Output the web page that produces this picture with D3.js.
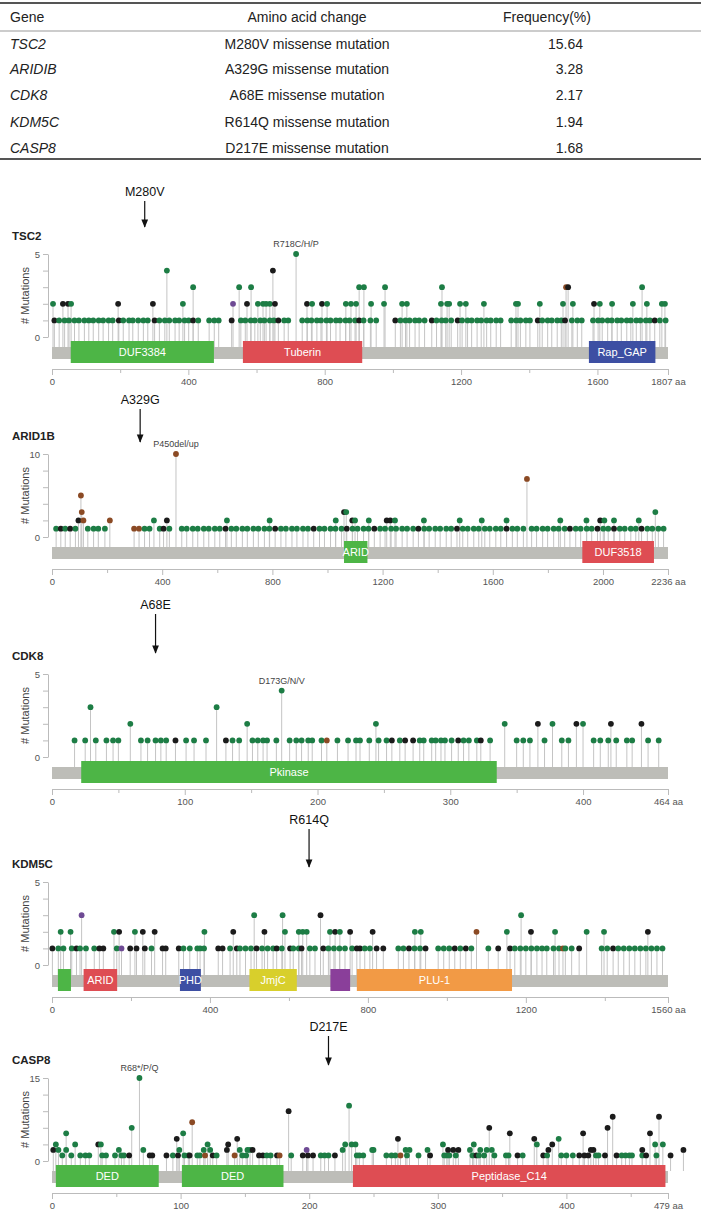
<!DOCTYPE html>
<html>
<head>
<meta charset="utf-8">
<script src="https://cdn.jsdelivr.net/npm/d3@7"></script>
<style>
  body { margin: 0; background: #fff; }
  svg text { font-family: "Liberation Sans", Arial, Helvetica, sans-serif; }
</style>
</head>
<body>
<svg id="fig" width="701" height="1212"></svg>
<script>
// ---- table data ----
var tableHead = ["Gene", "Amino acid change", "Frequency(%)"];
var tableGenes = ["TSC2", "ARIDIB", "CDK8", "KDM5C", "CASP8"];
var tableChanges = ["M280V missense mutation", "A329G missense mutation", "A68E missense mutation",
                    "R614Q missense mutation", "D217E missense mutation"];
var tableFreq = ["15.64", "3.28", "2.17", "1.94", "1.68"];

// ---- lollipop panels ----
var geneNames = ["TSC2", "ARID1B", "CDK8", "KDM5C", "CASP8"];
var geneLengths = [1807, 2236, 464, 1560, 479];
var maxCounts = [5, 10, 5, 5, 15];
var yTicks = [[0,1,2,3,4,5], [0,2,4,6,8,10], [0,1,2,3,4,5], [0,1,2,3,4,5], [0,3,6,9,12,15]];
var xMajor = [[0,400,800,1200,1600,1807], [0,400,800,1200,1600,2000,2236], [0,100,200,300,400,464],
              [0,400,800,1200,1560], [0,100,200,300,400,479]];
var xMinor = [[200,600,1000,1400], [200,600,1000,1400,1800], [50,150,250,350],
              [200,600,1000,1400], [50,150,250,350,450]];
var arrowLabels = ["M280V", "A329G", "A68E", "R614Q", "D217E"];
var arrowAt = [272, 320, 78, 651, 215];
var hotLabels = [[716, 5, "R718C/H/P"], [450, 10, "P450del/up"], [173, 4, "D173G/N/V"], null, [68, 15, "R68*/P/Q"]];

// domains: [start, end, name, colour key]
var tsc2Domains = [[55, 475, "DUF3384", "g"], [560, 910, "Tuberin", "r"], [1575, 1770, "Rap_GAP", "b"]];
var arid1bDomains = [[1060, 1145, "ARID", "g"], [1925, 2185, "DUF3518", "r"]];
var cdk8Domains = [[22, 335, "Pkinase", "g"]];
var kdm5cDomains = [[15, 48, "", "g"], [80, 165, "ARID", "r"], [324, 377, "PHD", "b"], [500, 620, "JmjC", "y"],
                    [705, 755, "", "p"], [772, 1165, "PLU-1", "o"]];
var casp8Domains = [[3, 83, "DED", "g"], [101, 180, "DED", "g"], [234, 477, "Peptidase_C14", "r"]];

// mutations: [position (aa), count, type]  M missense, T truncating, I inframe, O other
var tsc2Muts = [
  [716,5,"M"],[337,4,"M"],[648,4,"T"],
  [414,3,"M"],[549,3,"M"],[584,3,"M"],[901,3,"M"],[915,3,"M"],[977,3,"M"],[1144,3,"M"],[1508,3,"I"],[1514,3,"T"],[1731,3,"M"],
  [3,2,"M"],[32,2,"T"],[47,2,"T"],[56,2,"M"],[194,2,"T"],[296,2,"T"],[384,2,"M"],[531,2,"O"],[572,2,"T"],[604,2,"M"],
  [619,2,"M"],[628,2,"M"],[639,2,"M"],[654,2,"T"],[748,2,"T"],[763,2,"M"],[792,2,"T"],[807,2,"M"],[862,2,"M"],[877,2,"M"],
  [892,2,"M"],[936,2,"M"],[974,2,"M"],[1027,2,"M"],[1041,2,"M"],[1141,2,"M"],[1159,2,"M"],[1165,2,"M"],[1197,2,"M"],
  [1214,2,"M"],[1267,2,"M"],[1361,2,"M"],[1367,2,"M"],[1431,2,"M"],[1499,2,"M"],[1528,2,"M"],[1590,2,"T"],[1607,2,"M"],
  [1643,2,"M"],[1704,2,"M"],[1745,2,"M"],[1789,2,"M"],[1798,2,"M"],
  [7,1,"T"],[21,1,"M"],[37,1,"M"],[50,1,"M"],[66,1,"M"],[79,1,"M"],[95,1,"M"],[108,1,"M"],[121,1,"M"],[137,1,"M"],
  [150,1,"M"],[166,1,"M"],[178,1,"M"],[196,1,"T"],[209,1,"M"],[226,1,"M"],[237,1,"M"],[253,1,"M"],[268,1,"M"],[281,1,"M"],
  [301,1,"T"],[315,1,"M"],[331,1,"M"],[344,1,"M"],[361,1,"M"],[373,1,"M"],[389,1,"M"],[401,1,"M"],[414,1,"T"],[429,1,"M"],
  [461,1,"M"],[476,1,"M"],[489,1,"M"],[527,1,"T"],[554,1,"M"],[567,1,"M"],[583,1,"M"],[595,1,"M"],[611,1,"M"],[623,1,"M"],
  [639,1,"M"],[651,1,"M"],[664,1,"T"],[681,1,"M"],[693,1,"M"],[734,1,"M"],[749,1,"M"],[761,1,"M"],[777,1,"M"],[789,1,"M"],
  [805,1,"M"],[817,1,"M"],[833,1,"M"],[845,1,"M"],[861,1,"M"],[873,1,"M"],[889,1,"M"],[901,1,"T"],[914,1,"M"],[934,1,"M"],
  [951,1,"M"],[1007,1,"T"],[1022,1,"M"],[1037,1,"M"],[1049,1,"M"],[1065,1,"M"],[1077,1,"M"],[1093,1,"M"],[1114,1,"T"],
  [1128,1,"M"],[1143,1,"M"],[1155,1,"M"],[1171,1,"M"],[1190,1,"T"],[1203,1,"M"],[1219,1,"M"],[1231,1,"M"],[1247,1,"M"],
  [1259,1,"M"],[1275,1,"M"],[1287,1,"M"],[1303,1,"M"],[1316,1,"M"],[1347,1,"M"],[1362,1,"M"],[1374,1,"M"],[1390,1,"M"],
  [1402,1,"M"],[1425,1,"T"],[1438,1,"M"],[1454,1,"M"],[1466,1,"M"],[1482,1,"M"],[1494,1,"M"],[1505,1,"T"],[1525,1,"M"],
  [1541,1,"M"],[1554,1,"M"],[1587,1,"M"],[1602,1,"M"],[1614,1,"M"],[1630,1,"M"],[1642,1,"M"],[1658,1,"M"],[1670,1,"M"],
  [1686,1,"M"],[1698,1,"M"],[1714,1,"M"],[1726,1,"M"],[1742,1,"M"],[1754,1,"M"],[1768,1,"T"],[1783,1,"M"],[1800,1,"M"]
];

var arid1bMuts = [
  [450,10,"I"],[1724,7,"I"],[105,5,"I"],
  [108,3,"I"],[1060,3,"T"],[1068,3,"M"],[2190,3,"M"],
  [96,2,"T"],[114,2,"I"],[210,2,"I"],[370,2,"M"],[417,2,"T"],[635,2,"M"],[790,2,"M"],[1030,2,"M"],[1090,2,"T"],
  [1100,2,"M"],[1150,2,"M"],[1215,2,"T"],[1228,2,"T"],[1245,2,"M"],[1350,2,"M"],[1480,2,"M"],[1560,2,"M"],[1650,2,"M"],
  [1845,2,"M"],[1940,2,"M"],[1990,2,"T"],[2005,2,"M"],[2040,2,"M"],[2130,2,"M"],
  [15,1,"M"],[32,1,"T"],[48,1,"M"],[66,1,"T"],[85,1,"M"],[130,1,"M"],[151,1,"M"],[168,1,"M"],[192,1,"M"],[298,1,"I"],
  [316,1,"I"],[336,1,"M"],[354,1,"M"],[391,1,"M"],[405,1,"T"],[426,1,"M"],[471,1,"M"],[489,1,"M"],[511,1,"M"],[529,1,"M"],
  [551,1,"M"],[569,1,"M"],[591,1,"M"],[609,1,"M"],[630,1,"T"],[651,1,"M"],[669,1,"M"],[691,1,"M"],[709,1,"M"],[731,1,"M"],
  [749,1,"M"],[771,1,"M"],[789,1,"M"],[810,1,"T"],[831,1,"M"],[849,1,"M"],[871,1,"M"],[889,1,"M"],[911,1,"M"],[929,1,"M"],
  [950,1,"T"],[971,1,"M"],[989,1,"M"],[1011,1,"M"],[1029,1,"M"],[1051,1,"M"],[1070,1,"T"],[1091,1,"M"],[1109,1,"M"],
  [1131,1,"M"],[1149,1,"M"],[1170,1,"T"],[1191,1,"M"],[1209,1,"M"],[1231,1,"M"],[1249,1,"M"],[1271,1,"M"],[1289,1,"M"],
  [1311,1,"M"],[1330,1,"T"],[1351,1,"M"],[1369,1,"M"],[1391,1,"M"],[1409,1,"M"],[1431,1,"M"],[1449,1,"M"],[1470,1,"T"],
  [1491,1,"M"],[1509,1,"M"],[1531,1,"M"],[1549,1,"M"],[1571,1,"M"],[1589,1,"M"],[1611,1,"M"],[1629,1,"M"],[1650,1,"T"],
  [1671,1,"M"],[1689,1,"M"],[1711,1,"M"],[1741,1,"M"],[1759,1,"M"],[1781,1,"M"],[1799,1,"M"],[1821,1,"M"],[1839,1,"M"],
  [1861,1,"M"],[1880,1,"T"],[1901,1,"M"],[1919,1,"M"],[1941,1,"M"],[1959,1,"M"],[1980,1,"T"],[2001,1,"M"],[2019,1,"M"],
  [2040,1,"T"],[2061,1,"M"],[2079,1,"M"],[2101,1,"M"],[2119,1,"M"],[2140,1,"T"],[2161,1,"M"],[2179,1,"M"],[2201,1,"M"],
  [2220,1,"M"]
];

var cdk8Muts = [
  [173,4,"M"],
  [29,3,"M"],[124,3,"M"],
  [59,2,"M"],[147,2,"M"],[244,2,"M"],[341,2,"M"],[366,2,"T"],[377,2,"M"],[395,2,"T"],[400,2,"M"],[421,2,"T"],[444,2,"T"],
  [17,1,"M"],[25,1,"M"],[33,1,"M"],[41,1,"M"],[46,1,"M"],[50,1,"M"],[67,1,"M"],[72,1,"M"],[78,1,"M"],[82,1,"M"],
  [86,1,"M"],[93,1,"T"],[101,1,"M"],[107,1,"M"],[116,1,"M"],[131,1,"T"],[136,1,"M"],[141,1,"M"],[151,1,"M"],[155,1,"M"],
  [159,1,"M"],[162,1,"M"],[169,1,"M"],[179,1,"M"],[184,1,"M"],[188,1,"M"],[193,1,"M"],[196,1,"M"],[203,1,"M"],[207,1,"I"],
  [215,1,"M"],[223,1,"M"],[229,1,"M"],[232,1,"M"],[239,1,"M"],[246,1,"M"],[252,1,"M"],[256,1,"T"],[262,1,"M"],[266,1,"T"],
  [272,1,"T"],[277,1,"M"],[280,1,"M"],[286,1,"M"],[289,1,"M"],[293,1,"M"],[296,1,"M"],[301,1,"M"],[306,1,"T"],[310,1,"M"],
  [314,1,"M"],[320,1,"M"],[323,1,"T"],[330,1,"M"],[350,1,"M"],[355,1,"M"],[360,1,"M"],[371,1,"M"],[384,1,"M"],[389,1,"M"],
  [408,1,"M"],[413,1,"M"],[419,1,"M"],[425,1,"M"],[433,1,"M"],[437,1,"M"],[449,1,"M"],[457,1,"M"]
];

var kdm5cMuts = [
  [75,3,"O"],[512,3,"M"],[584,3,"M"],[680,3,"T"],[1188,3,"M"],
  [22,2,"M"],[47,2,"M"],[157,2,"M"],[170,2,"T"],[210,2,"M"],[230,2,"T"],[260,2,"T"],[386,2,"M"],[459,2,"T"],[538,2,"T"],
  [590,2,"M"],[625,2,"M"],[635,2,"M"],[645,2,"M"],[704,2,"M"],[717,2,"T"],[729,2,"M"],[755,2,"T"],[812,2,"T"],[919,2,"M"],
  [934,2,"M"],[1075,2,"I"],[1152,2,"M"],[1213,2,"T"],[1274,2,"M"],[1354,2,"M"],[1398,2,"M"],[1509,2,"T"],
  [1,1,"T"],[16,1,"M"],[29,1,"M"],[50,1,"M"],[62,1,"T"],[71,1,"M"],[86,1,"M"],[107,1,"M"],[120,1,"T"],[130,1,"T"],
  [164,1,"M"],[176,1,"O"],[198,1,"T"],[214,1,"T"],[235,1,"T"],[252,1,"M"],[280,1,"T"],[288,1,"T"],[321,1,"T"],[333,1,"M"],
  [349,1,"M"],[368,1,"M"],[375,1,"M"],[385,1,"M"],[421,1,"T"],[432,1,"T"],[451,1,"M"],[468,1,"T"],[476,1,"M"],[490,1,"M"],
  [504,1,"M"],[518,1,"T"],[532,1,"M"],[546,1,"M"],[560,1,"M"],[569,1,"T"],[582,1,"M"],[603,1,"T"],[611,1,"M"],[625,1,"M"],
  [632,1,"T"],[653,1,"M"],[666,1,"M"],[687,1,"T"],[700,1,"M"],[714,1,"M"],[728,1,"M"],[742,1,"M"],[760,1,"M"],[772,1,"T"],
  [780,1,"T"],[792,1,"M"],[805,1,"M"],[822,1,"T"],[839,1,"T"],[877,1,"M"],[890,1,"M"],[904,1,"T"],[918,1,"M"],[932,1,"M"],
  [946,1,"T"],[978,1,"M"],[992,1,"M"],[1006,1,"M"],[1020,1,"T"],[1034,1,"M"],[1048,1,"T"],[1062,1,"M"],[1105,1,"M"],
  [1130,1,"T"],[1160,1,"T"],[1172,1,"M"],[1186,1,"M"],[1200,1,"M"],[1214,1,"M"],[1228,1,"M"],[1241,1,"M"],[1253,1,"M"],
  [1270,1,"M"],[1284,1,"M"],[1294,1,"I"],[1300,1,"M"],[1316,1,"M"],[1335,1,"T"],[1392,1,"M"],[1406,1,"M"],[1421,1,"T"],
  [1434,1,"M"],[1448,1,"M"],[1462,1,"M"],[1476,1,"M"],[1490,1,"M"],[1504,1,"M"],[1518,1,"M"],[1532,1,"M"],[1546,1,"M"]
];

var casp8Muts = [
  [1,2,"T"],[3,3,"M"],[5,2,"M"],[8,1,"M"],[11,2,"M"],[11,5,"M"],[15,1,"M"],[18,3,"M"],[22,1,"M"],[26,1,"M"],[29,1,"M"],
  [36,3,"T"],[38,3,"M"],[39,1,"M"],[42,1,"M"],[49,1,"M"],[52,2,"M"],[54,1,"M"],[56,1,"M"],[60,1,"T"],[62,6,"M"],
  [68,15,"M"],[71,2,"M"],[76,1,"T"],[78,1,"T"],[89,1,"T"],[94,1,"M"],[97,4,"T"],[98,1,"T"],[99,2,"M"],[102,5,"M"],
  [103,1,"M"],[106,1,"M"],[107,1,"T"],[109,7,"I"],[113,1,"M"],[115,1,"M"],[118,2,"M"],[119,1,"I"],[121,3,"M"],[123,2,"M"],
  [125,1,"T"],[128,1,"M"],[136,2,"T"],[137,3,"T"],[142,1,"I"],[144,4,"T"],[146,2,"M"],[148,1,"M"],[151,1,"M"],[152,2,"M"],
  [154,2,"M"],[156,2,"T"],[161,1,"T"],[164,1,"T"],[167,1,"M"],[170,1,"M"],[175,1,"T"],[177,1,"I"],[184,9,"T"],[186,1,"M"],
  [195,1,"T"],[198,2,"O"],[199,1,"T"],[203,1,"T"],[209,1,"M"],[212,1,"M"],[215,1,"M"],[220,1,"T"],[226,2,"M"],[228,3,"M"],
  [231,10,"M"],[233,3,"M"],[236,3,"M"],[237,1,"M"],[239,1,"M"],[242,1,"M"],[249,2,"M"],[250,2,"M"],[260,1,"M"],[264,1,"M"],
  [267,1,"M"],[269,4,"T"],[271,1,"I"],[275,2,"M"],[276,1,"M"],[278,2,"M"],[285,1,"M"],[292,2,"M"],[294,1,"T"],[304,3,"M"],
  [305,1,"M"],[307,1,"M"],[308,2,"T"],[309,1,"M"],[312,2,"T"],[314,1,"M"],[316,2,"T"],[325,2,"M"],[327,1,"M"],[328,3,"M"],
  [330,1,"T"],[332,1,"M"],[333,2,"M"],[336,1,"M"],[338,2,"M"],[340,6,"T"],[342,2,"M"],[344,1,"M"],[353,1,"M"],[355,1,"M"],
  [356,5,"T"],[362,1,"T"],[366,1,"M"],[375,4,"T"],[377,3,"M"],[382,1,"T"],[385,1,"M"],[386,2,"T"],[389,3,"T"],[394,4,"M"],
  [396,1,"M"],[400,1,"M"],[405,1,"M"],[410,1,"T"],[413,5,"T"],[414,1,"T"],[417,1,"T"],[419,2,"T"],[421,2,"T"],[423,1,"M"],
  [425,1,"M"],[430,1,"T"],[432,6,"T"],[436,8,"T"],[439,1,"T"],[443,1,"M"],[446,1,"M"],[449,1,"M"],[451,1,"M"],[459,1,"M"],
  [459,2,"T"],[462,1,"T"],[465,5,"T"],[469,3,"M"],[470,1,"M"],[472,8,"T"],[475,3,"M"],[481,1,"T"],[491,2,"T"]
];

var allMuts = [tsc2Muts, arid1bMuts, cdk8Muts, kdm5cMuts, casp8Muts];
var allDomains = [tsc2Domains, arid1bDomains, cdk8Domains, kdm5cDomains, casp8Domains];

// layout (zero line of each panel, arrow label and arrow tip)
var panelZero = [337, 537, 757, 965, 1161];
var arrowLabelY = [192, 400, 605, 820, 1027];
var arrowTipY = [227, 442, 653, 867, 1065];
var plotH = 83;

var mutColor = { M: "#1d7d45", T: "#1b1b1b", I: "#8b4a24", O: "#6e4a94" };
var domColor = { g: "#4db546", r: "#de4d53", b: "#3d4fa3", y: "#d8cf2c", p: "#8a3f9a", o: "#f29a45" };

var svg = d3.select("#fig");

// ---------- table ----------
var tbl = svg.append("g").attr("fill", "#222").attr("font-size", 14);
tbl.append("line").attr("x1", 0).attr("x2", 701).attr("y1", 3).attr("y2", 3)
    .attr("stroke", "#555").attr("stroke-width", 2);
tbl.append("line").attr("x1", 0).attr("x2", 701).attr("y1", 31).attr("y2", 31)
    .attr("stroke", "#999").attr("stroke-width", 1);
tbl.append("line").attr("x1", 0).attr("x2", 701).attr("y1", 159).attr("y2", 159)
    .attr("stroke", "#555").attr("stroke-width", 2);

var colX = [10, 307, 547];
var colAnchor = ["start", "middle", "middle"];
tableHead.forEach(function(h, j) {
    tbl.append("text").attr("x", colX[j]).attr("y", 17).attr("dy", "0.35em")
        .attr("text-anchor", colAnchor[j]).text(h);
});
var rowY = [44, 69, 95, 122, 148];
tableGenes.forEach(function(g, r) {
    tbl.append("text").attr("x", 10).attr("y", rowY[r]).attr("dy", "0.35em")
        .attr("font-style", "italic").text(g);
    tbl.append("text").attr("x", 307).attr("y", rowY[r]).attr("dy", "0.35em")
        .attr("text-anchor", "middle").text(tableChanges[r]);
    tbl.append("text").attr("x", 583).attr("y", rowY[r]).attr("dy", "0.35em")
        .attr("text-anchor", "end").text(tableFreq[r]);
});

// arrow head
svg.append("defs").append("marker")
    .attr("id", "head").attr("viewBox", "0 0 10 10").attr("refX", 9).attr("refY", 5)
    .attr("markerWidth", 7).attr("markerHeight", 7).attr("orient", "auto")
    .append("path").attr("d", "M0,1 L10,5 L0,9 Z").attr("fill", "#111");

// ---------- panels ----------
function drawPanel(i) {
    var g = svg.append("g");
    var zero = panelZero[i], len = geneLengths[i], muts = allMuts[i];
    var x = d3.scaleLinear().domain([0, len]).range([52, 668]);
    var y = d3.scaleLinear().domain([0, maxCounts[i]]).range([zero, zero - plotH]);
    var barTop = zero + 10, axisY = zero + 32;

    // arrow + label
    g.append("text").attr("x", x(arrowAt[i])).attr("y", arrowLabelY[i]).attr("dy", "0.35em")
        .attr("text-anchor", "middle").attr("font-size", 12.5).attr("fill", "#111").text(arrowLabels[i]);
    g.append("line").attr("x1", x(arrowAt[i])).attr("x2", x(arrowAt[i]))
        .attr("y1", arrowLabelY[i] + 9).attr("y2", arrowTipY[i])
        .attr("stroke", "#111").attr("stroke-width", 1.2).attr("marker-end", "url(#head)");

    // gene title
    g.append("text").attr("x", 12).attr("y", zero - plotH - 18).attr("dy", "0.35em")
        .attr("font-size", 11.5).attr("font-weight", "bold").attr("fill", "#222").text(geneNames[i]);

    // y axis
    var ya = g.append("g").attr("transform", "translate(48,0)")
        .call(d3.axisLeft(y).tickValues(yTicks[i]).tickSize(5).tickSizeOuter(0)
            .tickFormat(function(d) { return (d === 0 || d === maxCounts[i]) ? d : ""; }));
    ya.selectAll("path, line").attr("stroke", "#bbb");
    ya.selectAll("text").attr("fill", "#555").attr("font-size", 9.5)
        .style("font-family", '"Liberation Sans", Arial, sans-serif');

    g.append("text").attr("transform", "translate(25," + (zero - plotH / 2) + ") rotate(-90)")
        .attr("text-anchor", "middle").attr("dy", "0.35em").attr("font-size", 11)
        .attr("fill", "#444").text("# Mutations");

    // stems
    g.append("g").selectAll("line").data(muts).join("line")
        .attr("x1", function(d) { return x(d[0]); }).attr("x2", function(d) { return x(d[0]); })
        .attr("y1", function(d) { return y(d[1]); }).attr("y2", barTop)
        .attr("stroke", "#c4c4c4").attr("stroke-width", 1);

    // protein bar and domains
    g.append("rect").attr("x", x(0)).attr("y", barTop).attr("width", x(len) - x(0)).attr("height", 12)
        .attr("fill", "#bdbdb8");
    var dom = g.append("g").selectAll("g").data(allDomains[i]).join("g");
    dom.append("rect")
        .attr("x", function(d) { return x(d[0]); }).attr("y", zero + 4)
        .attr("width", function(d) { return x(d[1]) - x(d[0]); }).attr("height", 22)
        .attr("fill", function(d) { return domColor[d[3]]; });
    dom.append("text")
        .attr("x", function(d) { return (x(d[0]) + x(d[1])) / 2; }).attr("y", zero + 15).attr("dy", "0.35em")
        .attr("text-anchor", "middle").attr("font-size", 11).attr("fill", "#fff")
        .text(function(d) { return d[2]; });

    // dots
    var sorted = muts.slice().sort(function(a, b) { return a[1] - b[1]; });
    g.append("g").selectAll("circle").data(sorted).join("circle")
        .attr("cx", function(d) { return x(d[0]); }).attr("cy", function(d) { return y(d[1]); })
        .attr("r", 2.9).attr("fill", function(d) { return mutColor[d[2]]; });

    if (hotLabels[i]) {
        g.append("text").attr("x", x(hotLabels[i][0])).attr("y", y(hotLabels[i][1]) - 10).attr("dy", "0.35em")
            .attr("text-anchor", "middle").attr("font-size", 9).attr("fill", "#444").text(hotLabels[i][2]);
    }

    // x axis
    var minor = g.append("g").attr("transform", "translate(0," + axisY + ")")
        .call(d3.axisBottom(x).tickValues(xMinor[i]).tickSize(4).tickSizeOuter(0).tickFormat(""));
    minor.select(".domain").remove();
    minor.selectAll("line").attr("stroke", "#bbb");
    var major = g.append("g").attr("transform", "translate(0," + axisY + ")")
        .call(d3.axisBottom(x).tickValues(xMajor[i]).tickSize(6).tickSizeOuter(0).tickPadding(3)
            .tickFormat(function(d) { return d === len ? d + " aa" : d; }));
    major.selectAll("path, line").attr("stroke", "#bbb");
    major.selectAll("text").attr("fill", "#555").attr("font-size", 9.5)
        .style("font-family", '"Liberation Sans", Arial, sans-serif');
}

for (var i = 0; i < geneNames.length; i++) drawPanel(i);
</script>
</body>
</html>
